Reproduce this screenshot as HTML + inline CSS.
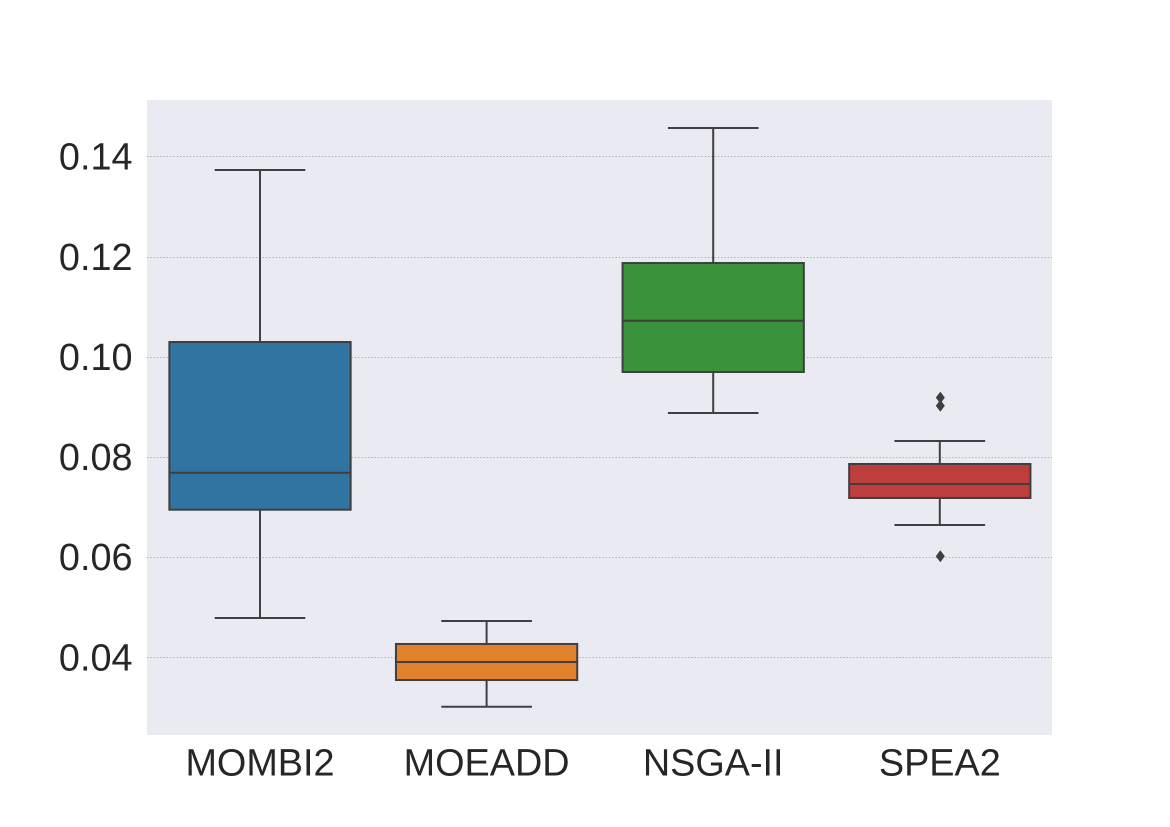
<!DOCTYPE html>
<html>
<head>
<meta charset="utf-8">
<title>Box plot</title>
<style>
html,body{margin:0;padding:0;background:#fff;}
svg{display:block;}
text{font-family:"Liberation Sans",Arial,sans-serif;fill:#262626;font-size:37.8px;}
</style>
</head>
<body>
<svg id="chart" width="1170" height="827" viewBox="0 0 1170 827" xmlns="http://www.w3.org/2000/svg">
<rect x="147" y="100" width="905" height="635" fill="#eaeaf2"/>
<g id="grid"></g>
<g id="yticks"></g>
<g id="marks"></g>
<g id="xticks"></g>
</svg>
<script>
const categories = ['MOMBI2', 'MOEADD', 'NSGA-II', 'SPEA2'];
const whiskerLow = [0.04787, 0.03014, 0.08880, 0.06644];
const quartile1 = [0.06949, 0.03548, 0.09699, 0.07183];
const medians = [0.07688, 0.03908, 0.10723, 0.07462];
const quartile3 = [0.10298, 0.04268, 0.11875, 0.07862];
const whiskerHigh = [0.13733, 0.04727, 0.14571, 0.08321];
const outliers = [[], [], [], [0.09186, 0.09026, 0.06019]];
const yTicks = [0.04, 0.06, 0.08, 0.10, 0.12, 0.14];
const yTickLabels = ['0.04', '0.06', '0.08', '0.10', '0.12', '0.14'];
const boxColors = ['#3274a1', '#e1812c', '#3a923a', '#c03d3e'];

const NS = 'http://www.w3.org/2000/svg';
const EDGE = '#3f3f3f';
const plotLeft = 146.7, plotWidth = 906.4;
const bandWidth = plotWidth / categories.length;

function xScale(i) { return plotLeft + bandWidth * (i + 0.5); }
function yScale(v) { return 657.4 - (v - 0.04) * 5008; }

function make(tag, attrs, parent) {
  const el = document.createElementNS(NS, tag);
  for (const k in attrs) el.setAttribute(k, attrs[k]);
  parent.appendChild(el);
  return el;
}

const grid = document.getElementById('grid');
const yticksGroup = document.getElementById('yticks');
const xticksGroup = document.getElementById('xticks');
const marks = document.getElementById('marks');

yTicks.forEach(function (t, i) {
  const y = yScale(t);
  const snapped = Math.floor(y + 0.3) + 0.5;
  const line = make('line', {x1: 147, x2: 1052, y1: snapped, y2: snapped, stroke: '#a6a6a6', 'stroke-width': 1, 'stroke-dasharray': '1.2 2.1'}, grid);
  
  
  const label = make('text', {x: 132.5, y: y + 13, 'text-anchor': 'end'}, yticksGroup);
  label.textContent = yTickLabels[i];
  
  
});

categories.forEach(function (c, i) {
  const cx = xScale(i);
  const boxW = bandWidth * 0.8;
  const capW = bandWidth * 0.4;
  const g = make('g', {}, marks);
  
  
  const lineStyle = {stroke: EDGE, 'stroke-width': 2, fill: 'none'};

  const lowWhisker = make('line', Object.assign({x1: cx, x2: cx, y1: yScale(quartile1[i]), y2: yScale(whiskerLow[i])}, lineStyle), g);
  
  
  const highWhisker = make('line', Object.assign({x1: cx, x2: cx, y1: yScale(quartile3[i]), y2: yScale(whiskerHigh[i])}, lineStyle), g);
  
  
  const lowCap = make('line', Object.assign({x1: cx - capW / 2, x2: cx + capW / 2, y1: yScale(whiskerLow[i]), y2: yScale(whiskerLow[i])}, lineStyle), g);
  
  
  const highCap = make('line', Object.assign({x1: cx - capW / 2, x2: cx + capW / 2, y1: yScale(whiskerHigh[i]), y2: yScale(whiskerHigh[i])}, lineStyle), g);
  
  

  const box = make('rect', {x: cx - boxW / 2, y: yScale(quartile3[i]), width: boxW, height: yScale(quartile1[i]) - yScale(quartile3[i]), fill: boxColors[i], stroke: EDGE, 'stroke-width': 2}, g);
  
  
  const median = make('line', Object.assign({x1: cx - boxW / 2, x2: cx + boxW / 2, y1: yScale(medians[i]), y2: yScale(medians[i])}, lineStyle), g);
  
  

  outliers[i].forEach(function (v) {
    const y = yScale(v);
    const pts = [[cx + 0.5, y - 6], [cx + 5, y], [cx + 0.5, y + 6], [cx - 4, y]].map(function (p) { return p.join(','); }).join(' ');
    const d = make('polygon', {points: pts, fill: EDGE}, g);
    
    
  });

  const label = make('text', {x: cx, y: 775.5, 'text-anchor': 'middle'}, xticksGroup);
  label.textContent = c;
  
  
});
</script>
</body>
</html>
